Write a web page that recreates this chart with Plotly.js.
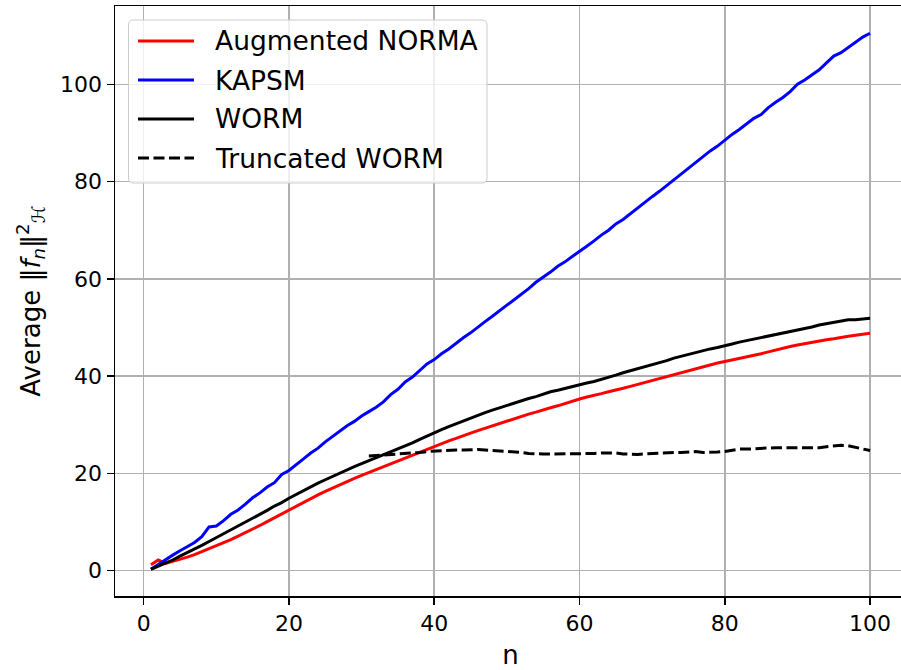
<!DOCTYPE html>
<html>
<head>
<meta charset="utf-8">
<script src="https://cdn.plot.ly/plotly-3.0.1.min.js"></script>
<style>
html,body{margin:0;padding:0;overflow:hidden;background:#fff;}
#chart{width:906px;height:670px;}
</style>
</head>
<body>
<div id="chart"></div>
<script>
const n = Array.from({length:100}, (_, i) => i + 1);

const augmentedNorma = [1.2,2.2,1.5,1.9,2.3,2.8,3.3,3.9,4.5,5.1,5.7,6.4,7.1,7.8,8.5,9.3,10.1,10.9,11.7,12.4,
13.2,14.0,14.8,15.6,16.3,17.0,17.7,18.4,19.0,19.6,20.2,20.8,21.4,22.0,22.6,23.2,23.7,24.3,24.9,25.5,
26.1,26.7,27.2,27.8,28.3,28.8,29.3,29.8,30.3,30.8,31.3,31.7,32.2,32.6,33.1,33.5,33.9,34.4,34.8,35.3,
35.7,36.0,36.4,36.8,37.1,37.5,37.9,38.3,38.7,39.1,39.5,40.0,40.4,40.8,41.2,41.6,42.0,42.3,42.7,43.0,
43.3,43.7,44.0,44.3,44.6,45.0,45.4,45.7,46.1,46.4,46.7,47.0,47.2,47.5,47.7,48.0,48.2,48.4,48.6,48.8];

const kapsm = [0.3,1.3,2.3,3.2,4.1,5.0,5.8,7.0,9.0,9.2,10.3,11.6,12.5,13.7,15.0,16.0,17.2,18.1,19.8,20.6,
21.9,23.0,24.2,25.2,26.5,27.6,28.6,29.8,30.7,31.8,32.7,33.6,34.7,36.2,37.3,38.8,39.8,41.2,42.5,43.4,
44.6,45.6,46.8,47.9,48.9,50.1,51.2,52.3,53.5,54.6,55.7,56.8,58.0,59.3,60.3,61.4,62.6,63.5,64.6,65.6,
66.7,67.8,69.0,70.0,71.3,72.2,73.4,74.5,75.8,76.9,78.0,79.2,80.4,81.5,82.8,84.0,85.2,86.3,87.3,88.6,
89.7,90.7,91.9,93.0,93.8,95.2,96.3,97.3,98.5,100.0,100.9,102.0,103.0,104.4,105.8,106.5,107.6,108.6,109.7,110.5];

const worm = [0.3,0.9,1.6,2.2,3.0,3.7,4.5,5.2,6.0,6.8,7.6,8.4,9.2,9.9,10.8,11.6,12.4,13.3,14.0,14.9,
15.7,16.5,17.3,18.0,18.7,19.4,20.1,20.8,21.4,22.0,22.6,23.2,23.9,24.5,25.1,25.7,26.3,27.0,27.7,28.4,
29.0,29.6,30.2,30.8,31.4,32.0,32.5,33.0,33.5,34.0,34.4,34.9,35.4,35.8,36.3,36.8,37.1,37.5,37.9,38.2,
38.6,38.9,39.3,39.7,40.2,40.7,41.1,41.5,42.0,42.4,42.8,43.2,43.7,44.1,44.5,44.9,45.2,45.6,45.9,46.2,
46.6,47.0,47.3,47.7,48.0,48.3,48.6,48.9,49.2,49.5,49.8,50.1,50.5,50.8,51.1,51.4,51.6,51.6,51.8,51.9];

const truncatedWorm = [null,null,null,null,null,null,null,null,null,null,
null,null,null,null,null,null,null,null,null,null,
null,null,null,null,null,null,null,null,null,null,
23.6,23.7,23.8,23.8,23.9,24.0,24.2,24.3,24.5,24.6,
24.7,24.7,24.8,24.8,24.9,24.9,24.8,24.7,24.7,24.6,
24.5,24.3,24.1,24.0,24.0,24.0,24.0,24.0,24.0,24.0,
24.1,24.1,24.2,24.2,24.2,24.0,23.9,23.9,24.0,24.1,
24.2,24.2,24.3,24.3,24.4,24.5,24.3,24.3,24.4,24.5,
24.8,25.0,25.0,25.1,25.1,25.2,25.3,25.3,25.3,25.2,
25.2,25.2,25.3,25.5,25.7,25.8,25.7,25.4,25.0,24.7];

const seriesNames = ['Augmented NORMA', 'KAPSM', 'WORM', 'Truncated WORM'];
const xTicks = [0, 20, 40, 60, 80, 100];
const yTicks = [0, 20, 40, 60, 80, 100];

const FONT = 'DejaVu Sans, sans-serif';
const LW = 3;
const DASH = '11px,4.5px';
const colors = ['#ff0000', '#0000ff', '#000000', '#000000'];
const dashes = ['solid', 'solid', 'solid', DASH];
const seriesData = [augmentedNorma, kapsm, worm, truncatedWorm];

const traces = seriesData.map((ys, i) => ({
  x:n, y:ys, name:seriesNames[i], type:'scatter', mode:'lines', connectgaps:false,
  showlegend:false, line:{color:colors[i], width:LW, dash:dashes[i]}
}));

// plot-area geometry (pixels) used to place the hand-drawn legend in paper coords
const W = 906, H = 670, ML = 115, MR = 0, MT = 6, MB = 74;
const PW = W - ML - MR, PH = H - MT - MB;
const px = v => (v - ML) / PW;
const py = v => (H - MB - v) / PH;

// rounded legend frame
const bx0 = 128.5, by0 = 20, bx1 = 487, by1 = 183, r = 5;
const framePath = [
  `M${px(bx0 + r)},${py(by0)}`,
  `L${px(bx1 - r)},${py(by0)}`,
  `Q${px(bx1)},${py(by0)} ${px(bx1)},${py(by0 + r)}`,
  `L${px(bx1)},${py(by1 - r)}`,
  `Q${px(bx1)},${py(by1)} ${px(bx1 - r)},${py(by1)}`,
  `L${px(bx0 + r)},${py(by1)}`,
  `Q${px(bx0)},${py(by1)} ${px(bx0)},${py(by1 - r)}`,
  `L${px(bx0)},${py(by0 + r)}`,
  `Q${px(bx0)},${py(by0)} ${px(bx0 + r)},${py(by0)}`,
  'Z'
].join(' ');

const shapes = [{
  type:'path', xref:'paper', yref:'paper', path:framePath,
  fillcolor:'rgba(255,255,255,0.8)', line:{color:'#cccccc', width:1}, layer:'above'
}];
const annotations = [];
const rowY = [41, 80, 119, 158];
seriesNames.forEach((name, i) => {
  shapes.push({
    type:'line', xref:'paper', yref:'paper',
    x0:px(138), x1:px(194), y0:py(rowY[i]), y1:py(rowY[i]),
    line:{color:colors[i], width:LW, dash:dashes[i]}, layer:'above'
  });
  annotations.push({
    xref:'paper', yref:'paper', x:px(213), y:py(rowY[i]),
    xanchor:'left', yanchor:'middle', showarrow:false, text:name,
    font:{family:FONT, size:26.5, color:'#000000'}
  });
});

const layout = {
  width:W, height:H,
  margin:{l:ML, r:MR, t:MT, b:MB},
  paper_bgcolor:'#ffffff', plot_bgcolor:'#ffffff',
  font:{family:FONT, color:'#000000', size:22},
  showlegend:false,
  shapes:shapes, annotations:annotations,
  xaxis:{
    range:[-3.95, 104.95], tickvals:xTicks, ticktext:xTicks.map(String),
    showgrid:true, gridcolor:'#b0b0b0', gridwidth:1.5, zeroline:false,
    showline:true, linecolor:'#000000', linewidth:1.5, mirror:true,
    ticks:'outside', ticklen:7, tickwidth:1.5, tickcolor:'#000000',
    tickfont:{family:FONT, size:22, color:'#000000'},
    title:{text:'n', font:{family:FONT, size:26, color:'#000000'}, standoff:14}
  },
  yaxis:{
    range:[-5.2, 116.1], tickvals:yTicks, ticktext:yTicks.map(String),
    showgrid:true, gridcolor:'#b0b0b0', gridwidth:1.5, zeroline:false,
    showline:true, linecolor:'#000000', linewidth:1.5, mirror:true,
    ticks:'outside', ticklen:7, tickwidth:1.5, tickcolor:'#000000',
    tickfont:{family:FONT, size:22, color:'#000000'},
    title:{text:'Average ‖<i>f<sub>n</sub></i>‖<sup>2</sup><sub>ℋ</sub>', font:{family:FONT, size:26, color:'#000000'}, standoff:12}
  }
};

Plotly.newPlot('chart', traces, layout, {displayModeBar:false, staticPlot:true});
</script>
</body>
</html>
